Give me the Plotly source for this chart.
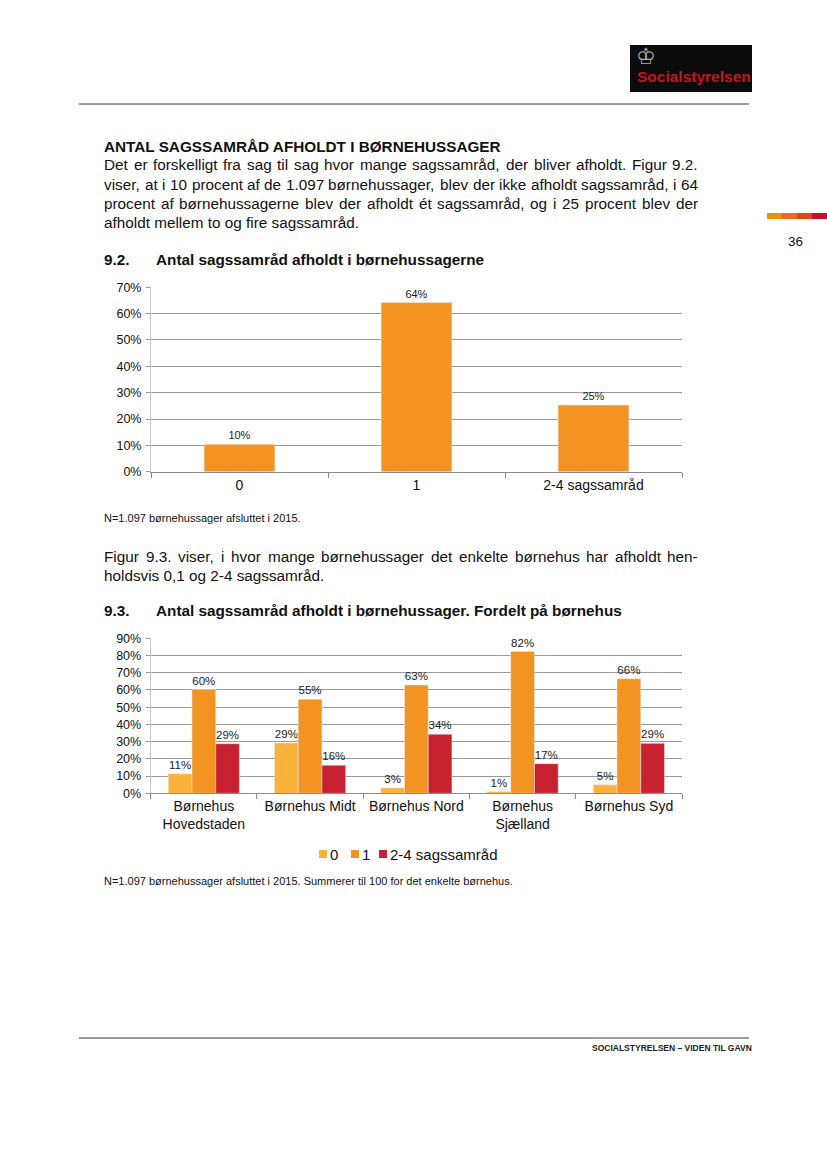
import plotly.graph_objects as go

W, H = 827, 1169
FONT = "Liberation Sans"

# ---- data ----
cat1 = ["0", "1", "2-4 sagssamråd"]
val1 = [10.4, 64.2, 25.3]

cat2 = ["Børnehus<br>Hovedstaden", "Børnehus Midt", "Børnehus Nord", "Børnehus<br>Sjælland", "Børnehus Syd"]
series_names = ["0", "1", "2-4 sagssamråd"]
s0 = [11.3, 29.2, 3.1, 1.0, 4.9]
s1 = [60.2, 54.6, 62.9, 82.3, 66.5]
s2 = [28.8, 16.3, 34.3, 17.2, 29.0]

C_YEL = "#FBB13A"
C_ORA = "#F39322"
C_RED = "#C7212F"

# Arial / Liberation Sans advance widths (1/1000 em) for text justification
AW = {' ': 278, ',': 278, '.': 278, '-': 333, '%': 889, '=': 584,
      'A': 667, 'B': 667, 'C': 722, 'D': 722, 'E': 667, 'F': 611, 'G': 778, 'H': 722, 'I': 278,
      'J': 500, 'K': 667, 'L': 556, 'M': 833, 'N': 722, 'O': 778, 'P': 667, 'R': 722, 'S': 667,
      'T': 611, 'U': 722, 'V': 667, 'Y': 667,
      'a': 556, 'b': 556, 'c': 500, 'd': 556, 'e': 556, 'f': 278, 'g': 556, 'h': 556, 'i': 222,
      'j': 222, 'k': 500, 'l': 222, 'm': 833, 'n': 556, 'o': 556, 'p': 556, 'q': 556, 'r': 333,
      's': 500, 't': 278, 'u': 556, 'v': 500, 'w': 722, 'x': 500, 'y': 500, 'z': 500,
      'å': 556, 'æ': 889, 'ø': 611, 'é': 556}
for d in "0123456789":
    AW[d] = 556

def tw(s, size):
    return sum(AW.get(c, 556) for c in s) * size / 1000.0

def px(x):
    return x / W

def py(y):
    return 1 - y / H

fig = go.Figure()

fig.add_trace(go.Bar(x=cat1, y=val1, marker_color=C_ORA, showlegend=False, width=0.4,
                     text=[f"{v:.0f}%" for v in val1], textposition="outside",
                     textfont=dict(size=11, color="#1a1a1a", family=FONT),
                     cliponaxis=False, hoverinfo="skip", xaxis="x", yaxis="y"))

for name, vals, col in zip(series_names, [s0, s1, s2], [C_YEL, C_ORA, C_RED]):
    fig.add_trace(go.Bar(x=cat2, y=vals, name=name, marker_color=col, showlegend=False,
                         text=[f"{v:.0f}%" for v in vals], textposition="outside",
                         textfont=dict(size=11.5, color="#1a1a1a", family=FONT),
                         cliponaxis=False, hoverinfo="skip", xaxis="x2", yaxis="y2"))

axis_common = dict(showgrid=False, showline=True, linecolor="#8a8a8a", linewidth=1,
                   ticks="outside", ticklen=5, tickcolor="#8a8a8a", tickson="boundaries",
                   tickfont=dict(size=14, color="#111", family=FONT), fixedrange=True)
yaxis_common = dict(showgrid=True, gridcolor="#9a9a9a", gridwidth=1, showline=True,
                    linecolor="#c8c8c8", ticks="outside", ticklen=4, tickcolor="#9a9a9a",
                    ticksuffix="%", tickfont=dict(size=12.5, color="#111", family=FONT),
                    ticklabelstandoff=2, zeroline=False, fixedrange=True)

fig.update_layout(
    width=W, height=H, margin=dict(l=0, r=0, t=0, b=0, pad=0, autoexpand=False),
    paper_bgcolor="white", plot_bgcolor="white",
    font=dict(family=FONT, color="#111"),
    showlegend=False,
    barmode="group", bargap=0.33, bargroupgap=0,
    xaxis=dict(domain=[px(151), px(682)], anchor="y", **axis_common),
    yaxis=dict(domain=[py(471.7), py(287.3)], anchor="x", range=[0, 70], dtick=10, **yaxis_common),
    xaxis2=dict(domain=[px(150.7), px(682)], anchor="y2", **axis_common),
    yaxis2=dict(domain=[py(793.3), py(638.3)], anchor="x2", range=[0, 90], dtick=10, **yaxis_common),
)

shapes = []
def rect(x0, x1, y0, y1, color):
    shapes.append(dict(type="rect", xref="paper", yref="paper", x0=px(x0), x1=px(x1),
                       y0=py(y1), y1=py(y0), fillcolor=color, line=dict(width=0)))

shapes.append(dict(type="line", xref="paper", yref="paper", x0=px(79), x1=px(749), y0=py(104), y1=py(104),
                   line=dict(color="#3a3a3a", width=1)))
shapes.append(dict(type="line", xref="paper", yref="paper", x0=px(79), x1=px(749), y0=py(1038), y1=py(1038),
                   line=dict(color="#3a3a3a", width=1)))
rect(630, 752, 45, 92, "#0b0b0b")
for c, a, b in [("#F29100", 767, 782), ("#EC6A1A", 782, 797), ("#E0461C", 797, 812), ("#C8102E", 812, 827)]:
    rect(a, b, 213, 219, c)

ann = []
def txt(x, y, s, size, bold=False, color="#111", xanchor="left", family=FONT):
    if bold:
        s = f"<b>{s}</b>"
    ann.append(dict(xref="paper", yref="paper", x=px(x), y=py(y), text=s, showarrow=False,
                    xanchor=xanchor, yanchor="middle", align="left", borderpad=0, borderwidth=0,
                    font=dict(size=size, color=color, family=family)))

def justified(x0, x1, y, line, size):
    words = line.split(" ")
    total = sum(tw(w_, size) for w_ in words)
    gap = (x1 - x0 - total) / (len(words) - 1)
    x = x0
    for w_ in words:
        txt(x, y, w_, size)
        x += tw(w_, size) + gap

BODY = 15.3
XL, XR = 104, 698
LS = 19.3
txt(XL, 146.5, "ANTAL SAGSSAMRÅD AFHOLDT I BØRNEHUSSAGER", BODY, bold=True)
para1 = ["Det er forskelligt fra sag til sag hvor mange sagssamråd, der bliver afholdt. Figur 9.2.",
         "viser, at i 10 procent af de 1.097 børnehussager, blev der ikke afholdt sagssamråd, i 64",
         "procent af børnehussagerne blev der afholdt ét sagssamråd, og i 25 procent blev der",
         "afholdt mellem to og fire sagssamråd."]
for i, line in enumerate(para1):
    y = 165 + i * LS
    if i < len(para1) - 1:
        justified(XL, XR, y, line, BODY)
    else:
        txt(XL, y, line, BODY)

txt(XL, 260, "9.2.", BODY, bold=True)
txt(156, 260, "Antal sagssamråd afholdt i børnehussagerne", BODY, bold=True)
txt(XL, 518, "N=1.097 børnehussager afsluttet i 2015.", 11)

para2 = ["Figur 9.3. viser, i hvor mange børnehussager det enkelte børnehus har afholdt hen-",
         "holdsvis 0,1 og 2-4 sagssamråd."]
justified(XL, XR, 556, para2[0], BODY)
txt(XL, 556 + LS, para2[1], BODY)

txt(XL, 611, "9.3.", BODY, bold=True)
txt(156, 611, "Antal sagssamråd afholdt i børnehussager. Fordelt på børnehus", BODY, bold=True)
txt(XL, 881, "N=1.097 børnehussager afsluttet i 2015. Summerer til 100 for det enkelte børnehus.", 11)

# legend for chart 9.3 (built from series names/colours)
leg_x = [319, 351, 379]
for name, col, lx in zip(series_names, [C_YEL, C_ORA, C_RED], leg_x):
    rect(lx, lx + 8, 850, 858, col)
    txt(lx + 10.5, 854, name, 15)

# page number
txt(795, 242, "36", 13.5, xanchor="center")
# logo
txt(694, 77, "Socialstyrelsen", 15.5, bold=True, color="#C4161C", xanchor="center")
txt(645.5, 56.5, "♔", 22, color="#b0b0b0", xanchor="center", family="DejaVu Sans")
# footer
txt(752, 1048, "SOCIALSTYRELSEN – VIDEN TIL GAVN", 8.5, bold=True, color="#222", xanchor="right")

fig.update_layout(annotations=ann, shapes=shapes)

fig.write_html("out.html", config={"displayModeBar": False, "staticPlot": True},
               post_script="document.body.style.margin='0';document.body.style.overflow='hidden';")
